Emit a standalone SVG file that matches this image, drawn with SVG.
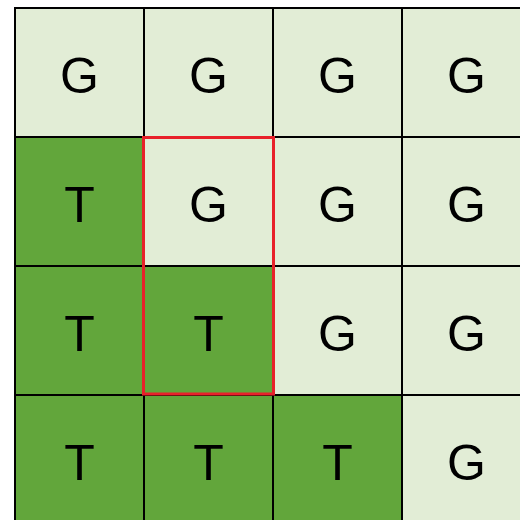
<svg xmlns="http://www.w3.org/2000/svg" width="520" height="520" viewBox="0 0 520 520">
<style>
.g{fill:#E2EDD6;stroke:#000;stroke-width:2}
.t{fill:#62A63B;stroke:#000;stroke-width:2}
text{font-family:"Liberation Sans",Arial,sans-serif;font-size:50px;text-anchor:middle;fill:#000}
</style>
<rect width="520" height="520" fill="#fff"/>
<g id="r1c1"><rect class="g" x="15" y="8" width="129" height="129"/><text x="79.5" y="92.5">G</text></g>
<g id="r1c2"><rect class="g" x="144" y="8" width="129" height="129"/><text x="208.5" y="92.5">G</text></g>
<g id="r1c3"><rect class="g" x="273" y="8" width="129" height="129"/><text x="337.5" y="92.5">G</text></g>
<g id="r1c4"><rect class="g" x="402" y="8" width="129" height="129"/><text x="466.5" y="92.5">G</text></g>
<g id="r2c1"><rect class="t" x="15" y="137" width="129" height="129"/><text x="79.5" y="221.5">T</text></g>
<g id="r2c2"><rect class="g" x="144" y="137" width="129" height="129"/><text x="208.5" y="221.5">G</text></g>
<g id="r2c3"><rect class="g" x="273" y="137" width="129" height="129"/><text x="337.5" y="221.5">G</text></g>
<g id="r2c4"><rect class="g" x="402" y="137" width="129" height="129"/><text x="466.5" y="221.5">G</text></g>
<g id="r3c1"><rect class="t" x="15" y="266" width="129" height="129"/><text x="79.5" y="350.5">T</text></g>
<g id="r3c2"><rect class="t" x="144" y="266" width="129" height="129"/><text x="208.5" y="350.5">T</text></g>
<g id="r3c3"><rect class="g" x="273" y="266" width="129" height="129"/><text x="337.5" y="350.5">G</text></g>
<g id="r3c4"><rect class="g" x="402" y="266" width="129" height="129"/><text x="466.5" y="350.5">G</text></g>
<g id="r4c1"><rect class="t" x="15" y="395" width="129" height="129"/><text x="79.5" y="479.5">T</text></g>
<g id="r4c2"><rect class="t" x="144" y="395" width="129" height="129"/><text x="208.5" y="479.5">T</text></g>
<g id="r4c3"><rect class="t" x="273" y="395" width="129" height="129"/><text x="337.5" y="479.5">T</text></g>
<g id="r4c4"><rect class="g" x="402" y="395" width="129" height="129"/><text x="466.5" y="479.5">G</text></g>
<g id="highlight"><rect x="143.5" y="137.5" width="130" height="256.5" fill="none" stroke="#E8212A" stroke-width="3"/></g>
</svg>
